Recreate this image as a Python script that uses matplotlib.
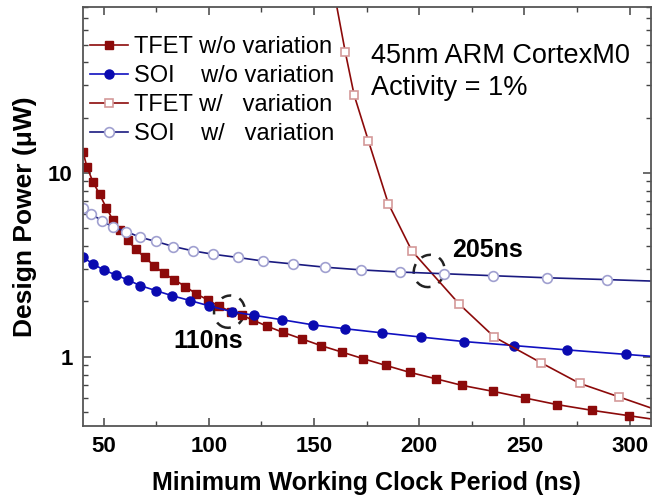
import matplotlib
matplotlib.use("Agg")
import matplotlib.pyplot as plt
from matplotlib.patches import Ellipse
from matplotlib.transforms import ScaledTranslation
from matplotlib.ticker import MultipleLocator, LogLocator, NullFormatter

# ---------------- data ----------------
tfet_wo_x = [40.2, 42.1, 44.9, 48.1, 51.3, 54.4, 57.6, 61.5, 65.2, 69.5, 74.2, 78.5,
             83.7, 88.9, 94.0, 99.5, 105.0, 110.6, 115.8, 121.2, 127.5, 135.1, 144.3,
             153.3, 163.3, 173.4, 184.2, 195.6, 207.9, 220.5, 235.2, 250.1, 265.6,
             282.2, 299.6, 318.0]
tfet_wo_y = [13.05, 10.8, 8.97, 7.66, 6.47, 5.56, 4.90, 4.32, 3.85, 3.48, 3.12, 2.85,
             2.62, 2.41, 2.20, 2.04, 1.88, 1.76, 1.68, 1.58, 1.47, 1.36, 1.25,
             1.15, 1.06, 0.976, 0.897, 0.822, 0.759, 0.698, 0.648, 0.597, 0.549,
             0.511, 0.478, 0.445]

soi_wo_x = [40.2, 45.0, 50.0, 55.7, 61.5, 67.4, 74.9, 82.5, 91.3, 100.3, 110.9, 121.7,
            134.8, 149.7, 164.9, 182.1, 200.8, 221.3, 245.2, 270.1, 298.4, 325.0]
soi_wo_y = [3.48, 3.20, 2.97, 2.79, 2.62, 2.44, 2.29, 2.15, 2.02, 1.89, 1.76, 1.68,
            1.59, 1.49, 1.42, 1.35, 1.28, 1.21, 1.15, 1.09, 1.03, 0.976]

tfet_w_x = [158.0, 164.9, 169.1, 175.9, 185.3, 196.5, 219.1, 235.7, 258.1, 276.3, 294.9, 318.0]
tfet_w_y = [120.0, 45.3, 26.5, 14.9, 6.82, 3.77, 1.93, 1.28, 0.925, 0.716, 0.605, 0.49]

soi_w_x = [40.2, 44.2, 49.4, 54.4, 60.8, 67.4, 74.9, 83.2, 92.4, 102.2, 113.8, 125.6,
           139.8, 155.4, 172.3, 191.0, 211.8, 235.2, 260.6, 289.0, 320.0]
soi_w_y = [6.43, 5.98, 5.48, 5.07, 4.80, 4.47, 4.24, 3.98, 3.77, 3.61, 3.47, 3.32,
           3.20, 3.07, 2.97, 2.89, 2.83, 2.76, 2.69, 2.63, 2.56]

series_labels = ["TFET w/o variation", "SOI    w/o variation",
                 "TFET w/   variation", "SOI    w/   variation"]
x_ticks = [50, 100, 150, 200, 250, 300]
y_ticks = [1, 10]
y_tick_labels = ["1", "10"]
crossings = [(109.8, 1.76, "110ns"), (204.7, 2.93, "205ns")]

# ---------------- figure ----------------
plt.rcParams['font.family'] = ['Liberation Sans', 'DejaVu Sans']
fig = plt.figure(figsize=(6.52, 4.97), dpi=100)
ax = fig.add_axes([82.5/652, 1-426/497, (650.7-82.5)/652, (426-7)/497])

red = "#8c0a0a"
blue = "#1010c0"
navy = "#1a1a80"

ax.plot(tfet_wo_x, tfet_wo_y, color=red, lw=1.2, marker='s', ms=5.5,
        mfc=red, mec=red, label=series_labels[0])
ax.plot(soi_wo_x, soi_wo_y, color=blue, lw=1.2, marker='o', ms=6.5,
        mfc="#0a0ab0", mec="#0a0ab0", label=series_labels[1])
ax.plot(tfet_w_x, tfet_w_y, color=red, lw=1.2, marker='s', ms=6,
        mfc='white', mec="#d49a9a", mew=1.2, label=series_labels[2])
ax.plot(soi_w_x, soi_w_y, color=navy, lw=1.2, marker='o', ms=7,
        mfc='white', mec="#a0a0d0", mew=1.2, label=series_labels[3])

ax.set_yscale('log')
ax.set_xlim(40, 310)
ax.set_ylim(0.42, 80)

ax.set_xticks(x_ticks)
ax.xaxis.set_minor_locator(MultipleLocator(25))
ax.set_yticks(y_ticks, labels=y_tick_labels)
ax.yaxis.set_minor_locator(LogLocator(base=10, subs=range(2, 10)))
ax.yaxis.set_minor_formatter(NullFormatter())

ax.tick_params(which='both', direction='in', top=True, right=True, color='#444444')
ax.tick_params(which='major', length=6, width=1.1, labelsize=16, pad=7)
ax.tick_params(which='minor', length=3.5, width=1.0)
for lab in ax.get_xticklabels() + ax.get_yticklabels():
    lab.set_fontweight('bold')
for sp in ax.spines.values():
    sp.set_color('#555555')
    sp.set_linewidth(1.3)

ax.set_xlabel("Minimum Working Clock Period (ns)", fontsize=18, fontweight='bold', labelpad=10)
ax.set_ylabel("Design Power (\u03bcW)", fontsize=19, fontweight='bold', labelpad=8)

leg = ax.legend(loc='upper left', bbox_to_anchor=((90-82.5)/568.2, (426-36)/419),
                frameon=False, fontsize=17, borderpad=0, borderaxespad=0,
                handlelength=1.6, handletextpad=0.25, labelspacing=0.3)

ax.text((371-82.5)/568.2, (426-43)/419, "45nm ARM CortexM0\nActivity = 1%",
        transform=ax.transAxes, fontsize=19.5, va='top', ha='left', linespacing=1.32)

# dashed ellipses marking crossing points, and their labels
for (cx, cy, txt) in crossings:
    tr = fig.dpi_scale_trans + ScaledTranslation(cx, cy, ax.transData)
    e = Ellipse((0, 0), 0.30, 0.33, angle=-30, transform=tr, fill=False,
                ec='#222222', lw=1.8, ls=(0, (4, 3.5)))
    ax.add_patch(e)

ax.annotate(crossings[0][2], xy=(crossings[0][0], crossings[0][1]), xytext=(-21, -29),
            textcoords='offset pixels', ha='center', va='center',
            fontsize=18, fontweight='bold')
ax.annotate(crossings[1][2], xy=(crossings[1][0], crossings[1][1]), xytext=(58, 21),
            textcoords='offset pixels', ha='center', va='center',
            fontsize=18, fontweight='bold')

fig.savefig("out.png", dpi=100)
